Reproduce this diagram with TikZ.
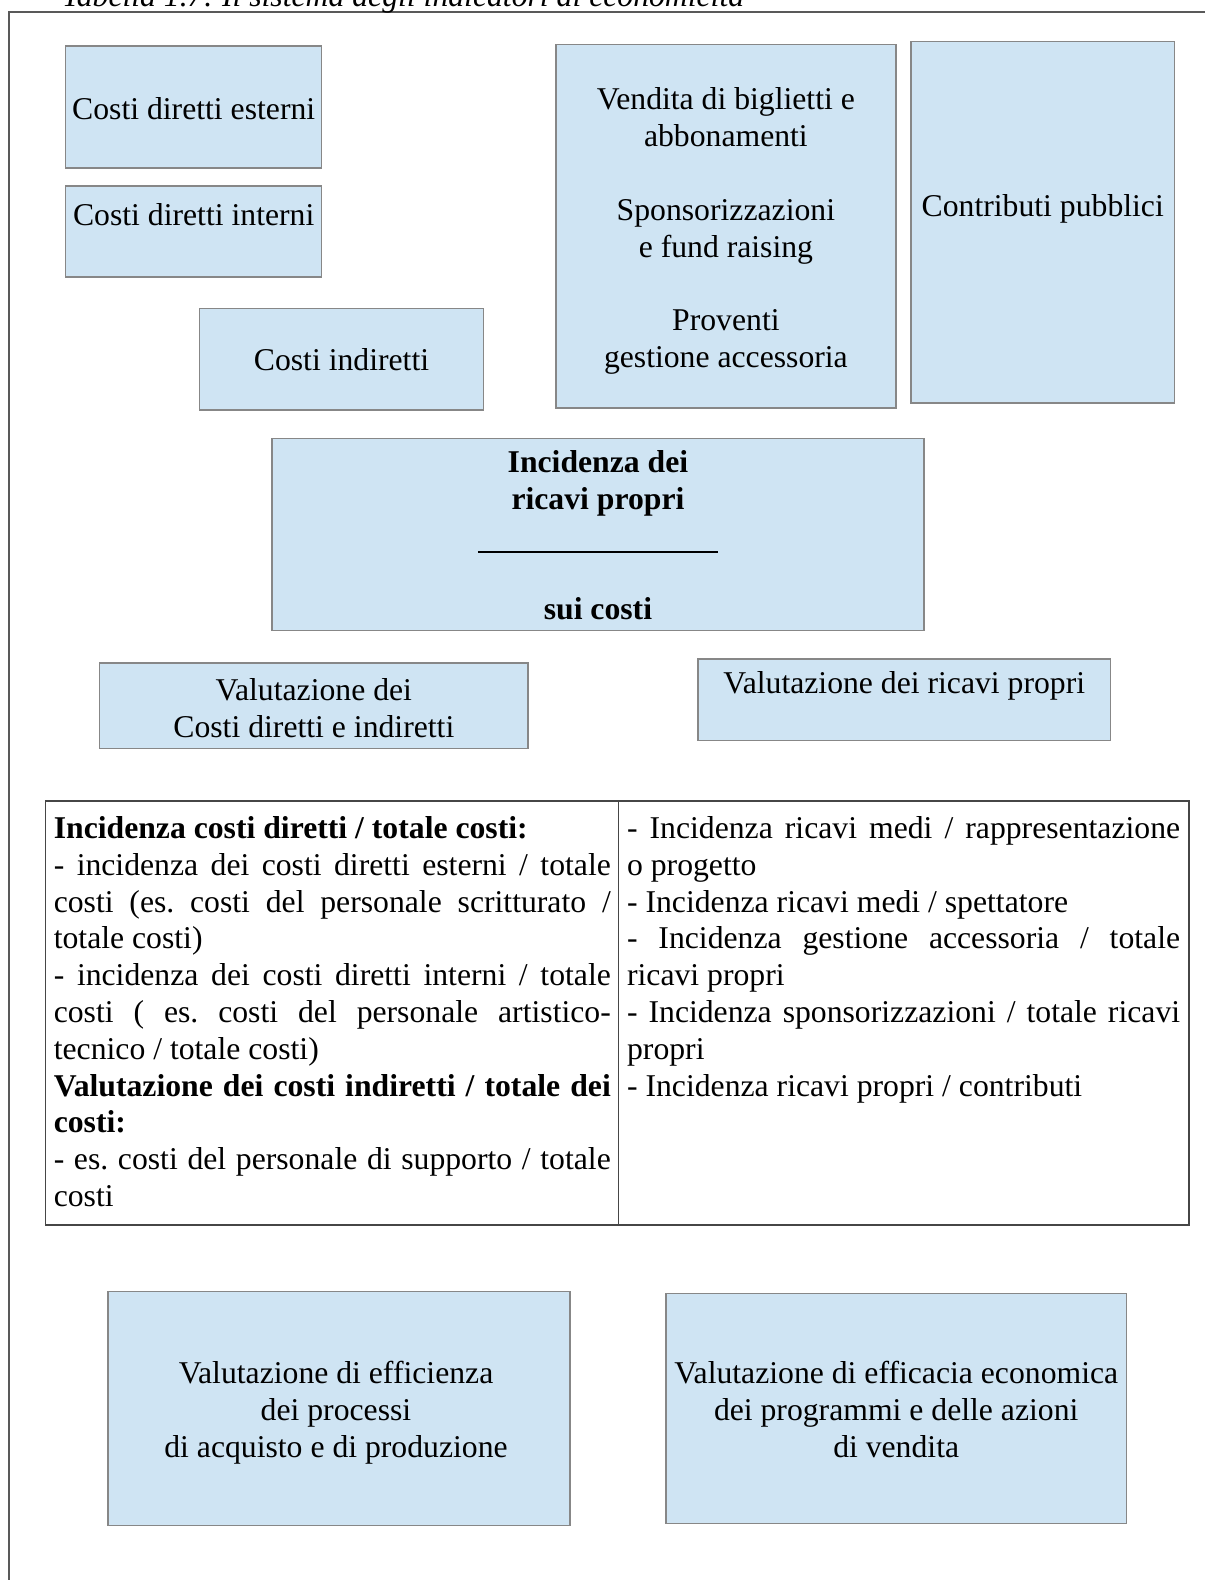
\documentclass[tikz,border=0pt]{standalone}
\usepackage{fontspec}
\setmainfont{Liberation Serif}
\usetikzlibrary{positioning}
\definecolor{boxfill}{RGB}{207,228,243}
\definecolor{boxedge}{RGB}{135,135,135}
\definecolor{tabedge}{RGB}{70,70,70}
\frenchspacing
\begin{document}
\begin{tikzpicture}[x=.5pt,y=-.5pt,
    every node/.style={font=\fontsize{15.85}{18.4}\selectfont},
    box/.style={draw=boxedge,fill=boxfill,line width=.75pt,inner sep=0pt},
    label/.style={align=center,inner sep=0pt},
    cell/.style={anchor=north west,inner sep=0pt,align=justify,
      execute at begin node=\tolerance10000 \hbadness10000 \parindent0pt}]
  \useasboundingbox (0,0) rectangle (1205,1580);
  \draw[line width=.75pt,black!65] (9,1580) -- (9,12) -- (1205,12);
  \node[anchor=base west,font=\fontsize{15.85}{18.4}\selectfont\itshape] (caption) at (55,6)
    {Tabella 1.7: Il sistema degli indicatori di economicità};
  % costi
  \node[box,minimum width=128pt,minimum height=60.85pt] (esterni) at (193.7,106.9) {};
  \node[label,yshift=-1pt] (esternitxt) at (esterni) {Costi diretti esterni};
  \node[box,minimum width=128pt,minimum height=45.35pt] (interni) at (193.7,231.4) {};
  \node[anchor=base,yshift=-20.3pt] (internitxt) at (interni.north) {Costi diretti interni};
  \node[box,minimum width=142pt,minimum height=50.85pt] (indiretti) at (341.5,359.2) {};
  \node[label] (indirettitxt) at (indiretti) {Costi indiretti};
  % ricavi
  \node[box,minimum width=169.85pt,minimum height=181.85pt] (vendita) at (725.9,226.2) {};
  \node[label,yshift=-2.5pt] (venditatxt) at (vendita)
    {Vendita di biglietti e\\ abbonamenti\\[18.4pt] Sponsorizzazioni\\ e fund raising\\[18.4pt] Proventi\\ gestione accessoria};
  \node[box,minimum width=131.95pt,minimum height=180.85pt] (contributi) at (1042.75,222.15) {};
  \node[anchor=base,yshift=-88.1pt] (contributitxt) at (contributi.north) {Contributi pubblici};
  \node[box,minimum width=325.95pt,minimum height=96.2pt] (incidenza) at (597.95,534.5) {};
  \node[label,yshift=-.5pt,font=\fontsize{15.85}{18.4}\selectfont\bfseries] (incidenzatxt) at (incidenza)
    {Incidenza dei\\ ricavi propri\\ \rule[-3.25pt]{120pt}{1pt}\\[18.4pt] sui costi};
  % valutazioni
  \node[box,minimum width=214.15pt,minimum height=42.8pt] (valcosti) at (313.85,705.8) {};
  \node[label,yshift=-1pt] (valcostitxt) at (valcosti) {Valutazione dei\\ Costi diretti e indiretti};
  \node[box,minimum width=206.05pt,minimum height=40.75pt] (valricavi) at (904.25,699.75) {};
  \node[anchor=base,yshift=-17.5pt] (valricavitxt) at (valricavi.north) {Valutazione dei ricavi propri};
  % tabella
  \draw[tabedge,line width=.75pt] (45.3,801) rectangle (1188.9,1225);
  \draw[tabedge,line width=.75pt] (618.6,801) -- (618.6,1225);
  \node[cell,text width=278.5pt] (indcosti) at (53.4,816)
    {\textbf{Incidenza costi diretti / totale costi:}\par
    - incidenza dei costi diretti esterni / totale\linebreak costi (es. costi del personale scritturato /\linebreak totale costi)\par
    - incidenza dei costi diretti interni / totale\linebreak costi ( es. costi del personale artistico-\linebreak tecnico / totale costi)\par
    \textbf{Valutazione dei costi indiretti / totale dei\linebreak costi:}\par
    - es. costi del personale di supporto / totale\linebreak costi};
  \node[cell,text width=276.5pt] (indricavi) at (626.7,816)
    {- Incidenza ricavi medi / rappresentazione\linebreak o progetto\par
    - Incidenza ricavi medi / spettatore\par
    - Incidenza gestione accessoria / totale\linebreak ricavi propri\par
    - Incidenza sponsorizzazioni / totale ricavi\linebreak propri\par
    - Incidenza ricavi propri / contributi};
  % efficienza ed efficacia
  \node[box,minimum width=231.2pt,minimum height=116.9pt] (efficienza) at (339,1408.5) {};
  \node[label,xshift=-1.5pt,yshift=-2pt] (efficienzatxt) at (efficienza)
    {Valutazione di efficienza\\ dei processi\\ di acquisto e di produzione};
  \node[box,minimum width=230.2pt,minimum height=114.85pt] (efficacia) at (896.2,1408.45) {};
  \node[label,yshift=-.5pt] (efficaciatxt) at (efficacia)
    {Valutazione di efficacia economica\\ dei programmi e delle azioni\\ di vendita};
\end{tikzpicture}
\end{document}
